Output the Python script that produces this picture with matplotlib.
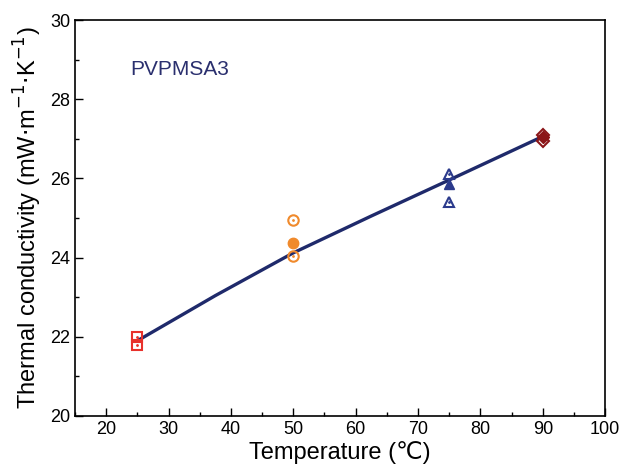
import matplotlib
matplotlib.use("Agg")
import matplotlib.pyplot as plt
from matplotlib.ticker import MultipleLocator

plt.rcParams['font.family'] = ['Liberation Sans', 'DejaVu Sans']

# Data
temps = [25, 50, 75, 90]
open_hi = [22.0, 24.95, 26.1, 27.1]
open_lo = [21.8, 24.05, 25.4, 26.95]
means = [None, 24.38, 25.85, 27.05]
markers = ['s', 'o', '^', 'D']
colors = ['#e8312b', '#f08a2c', '#2b3a8c', '#8b1518']

fit_x = [25, 37.5, 50, 62.5, 75, 90]
fit_y = [21.9, 23.04, 24.12, 25.05, 25.96, 27.06]

fig = plt.figure(figsize=(6.33, 4.71), dpi=100)
ax = fig.add_axes([0.1185, 0.1168, 0.8375, 0.8407])

ax.plot(fit_x, fit_y, color='#1f2a6b', lw=2.4, zorder=2, solid_capstyle='round')

for t, hi, lo, m, c, mk in zip(temps, open_hi, open_lo, means, colors, markers):
    ms = 7.5 if mk != 'D' else 6.5
    ax.plot([t, t], [hi, lo], ls='none', marker=mk, ms=ms, mfc='none', mec=c, mew=1.5, zorder=3)
    ax.plot([t, t], [hi, lo], ls='none', marker='.', ms=2, color=c, zorder=3)
    if m is not None:
        ax.plot([t], [m], ls='none', marker=mk, ms=ms, mfc=c, mec=c, zorder=4)

ax.set_xlim(15, 100)
ax.set_ylim(20, 30)
ax.xaxis.set_major_locator(MultipleLocator(10))
ax.xaxis.set_minor_locator(MultipleLocator(5))
ax.yaxis.set_major_locator(MultipleLocator(2))
ax.yaxis.set_minor_locator(MultipleLocator(1))
ax.tick_params(which='both', direction='in', top=False, right=False, labelsize=13)
ax.tick_params(which='major', length=6, width=1)
ax.tick_params(which='minor', length=3, width=1)
for s in ax.spines.values():
    s.set_linewidth(1.2)

ax.set_xlabel('Temperature (℃)', fontsize=17, labelpad=2)
ax.set_ylabel(r'Thermal conductivity (mW$\cdot$m$^{-1}$$\cdot$K$^{-1}$)', fontsize=17, labelpad=4)

ax.text(0.104, 0.861, 'PVPMSA3', transform=ax.transAxes, fontsize=15, color='#2a2f6e',
        va='baseline')

fig.savefig('out.png', dpi=100)
